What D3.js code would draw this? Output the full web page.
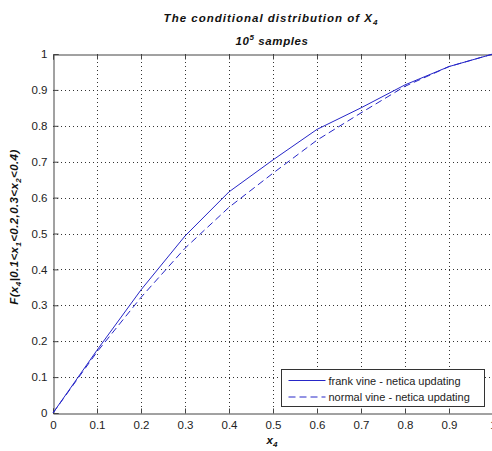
<!DOCTYPE html>
<html>
<head>
<meta charset="utf-8">
<script src="https://cdn.jsdelivr.net/npm/d3@7"></script>
<style>
  body { margin: 0; background: #fff; }
  svg { display: block; font-family: "Liberation Sans", Arial, sans-serif; }
</style>
</head>
<body>
<svg id="chart" width="492" height="451"></svg>
<script>
// x positions of the discretised cdf
const xs = [0, 0.1, 0.2, 0.3, 0.4, 0.5, 0.6, 0.7, 0.8, 0.9, 1];
const frankVine = [0, 0.175, 0.343, 0.493, 0.616, 0.705, 0.79, 0.85, 0.914, 0.965, 1];
const normalVine = [0, 0.17, 0.322, 0.459, 0.573, 0.668, 0.76, 0.836, 0.91, 0.965, 1];
const xTicks = [0, 0.1, 0.2, 0.3, 0.4, 0.5, 0.6, 0.7, 0.8, 0.9, 1];
const yTicks = [0, 0.1, 0.2, 0.3, 0.4, 0.5, 0.6, 0.7, 0.8, 0.9, 1];
const legendLabels = ['frank vine - netica updating', 'normal vine - netica updating'];

const svg = d3.select('#chart');
const plotLeft = 53, plotRight = 493, plotTop = 54, plotBottom = 413;
const x = d3.scaleLinear().domain([0, 1]).range([plotLeft, plotRight]);
const y = d3.scaleLinear().domain([0, 1]).range([plotBottom, plotTop]);
const lineColor = '#2626c8';
const axisColor = '#444';

// grid (dotted)
const grid = svg.append('g').attr('stroke', '#333').attr('stroke-dasharray', '1,3').attr('stroke-width', 1);
xTicks.slice(1, -1).forEach(t => {
    grid.append('line').attr('x1', Math.round(x(t)) + 0.5).attr('x2', Math.round(x(t)) + 0.5)
        .attr('y1', plotTop).attr('y2', plotBottom);
});
yTicks.slice(1, -1).forEach(t => {
    grid.append('line').attr('y1', Math.round(y(t)) + 0.5).attr('y2', Math.round(y(t)) + 0.5)
        .attr('x1', plotLeft).attr('x2', plotRight);
});

// axes, MATLAB style ticks inside
const xAxis = svg.append('g').attr('transform', `translate(0,${plotBottom + 0.5})`)
    .call(d3.axisBottom(x).tickValues(xTicks).tickFormat(d3.format('')).tickSize(-5).tickPadding(7));
const yAxis = svg.append('g').attr('transform', `translate(${plotLeft + 0.5},0)`)
    .call(d3.axisLeft(y).tickValues(yTicks).tickFormat(d3.format('')).tickSize(-5).tickPadding(6));
const topAxis = svg.append('g').attr('transform', `translate(0,${plotTop + 0.5})`)
    .call(d3.axisTop(x).tickValues(xTicks).tickFormat('').tickSize(-5));
[xAxis, yAxis, topAxis].forEach(a => {
    a.select('.domain').attr('stroke', axisColor);
    a.selectAll('.tick line').attr('stroke', axisColor);
    a.selectAll('text').attr('font-size', 11.5).attr('fill', '#222')
        .attr('font-family', '"Liberation Sans", Arial, sans-serif');
});

// curves
const line = d3.line().x((d, i) => x(xs[i])).y(d => y(d));
svg.append('path').datum(frankVine).attr('d', line)
    .attr('fill', 'none').attr('stroke', lineColor).attr('stroke-width', 1);
svg.append('path').datum(normalVine).attr('d', line)
    .attr('fill', 'none').attr('stroke', lineColor).attr('stroke-width', 1)
    .attr('stroke-dasharray', '7,4');

// legend
const lg = svg.append('g').attr('transform', 'translate(281.5,369.5)');
lg.append('rect').attr('width', 203).attr('height', 37)
    .attr('fill', '#fff').attr('stroke', '#333');
legendLabels.forEach((label, i) => {
    const ly = 11 + i * 16.5;
    lg.append('line').attr('x1', 7).attr('x2', 44).attr('y1', ly).attr('y2', ly)
        .attr('stroke', lineColor).attr('stroke-dasharray', i ? '7,4' : null);
    lg.append('text').attr('x', 47).attr('y', ly + 4).attr('font-size', 11)
        .attr('fill', '#222').text(label);
});

// titles
const title = svg.append('text').attr('x', 271).attr('y', 22).attr('text-anchor', 'middle')
    .attr('font-size', 11.5).attr('font-weight', 'bold').attr('font-style', 'italic')
    .attr('letter-spacing', 1).attr('fill', '#111');
title.append('tspan').text('The conditional distribution of X');
title.append('tspan').attr('font-size', 8).attr('dy', 3).text('4');
const sub = svg.append('text').attr('x', 272).attr('y', 45).attr('text-anchor', 'middle')
    .attr('font-size', 11.5).attr('font-weight', 'bold').attr('font-style', 'italic')
    .attr('letter-spacing', 0.6).attr('fill', '#111');
sub.append('tspan').text('10');
sub.append('tspan').attr('font-size', 8).attr('dy', -5).text('5');
sub.append('tspan').attr('dy', 5).text(' samples');

// x label
const xl = svg.append('text').attr('x', 272).attr('y', 444).attr('text-anchor', 'middle')
    .attr('font-size', 11.5).attr('font-weight', 'bold').attr('font-style', 'italic').attr('fill', '#111');
xl.append('tspan').text('x');
xl.append('tspan').attr('font-size', 8).attr('dy', 3).text('4');

// y label
const yl = svg.append('text').attr('transform', 'translate(18,227) rotate(-90)').attr('text-anchor', 'middle')
    .attr('font-size', 11.5).attr('font-weight', 'bold').attr('font-style', 'italic')
    .attr('letter-spacing', 0.4).attr('fill', '#111');
const parts = [['F(x', 0], ['4', 1], ['|0.1<x', 0], ['1', 1], ['<0.2,0.3<x', 0], ['2', 1], ['<0.4)', 0]];
let prevSub = 0;
parts.forEach(([t, s]) => {
    yl.append('tspan').attr('font-size', s ? 8 : 11.5).attr('dy', s ? 3 : (prevSub ? -3 : 0)).text(t);
    prevSub = s;
});
</script>
</body>
</html>
